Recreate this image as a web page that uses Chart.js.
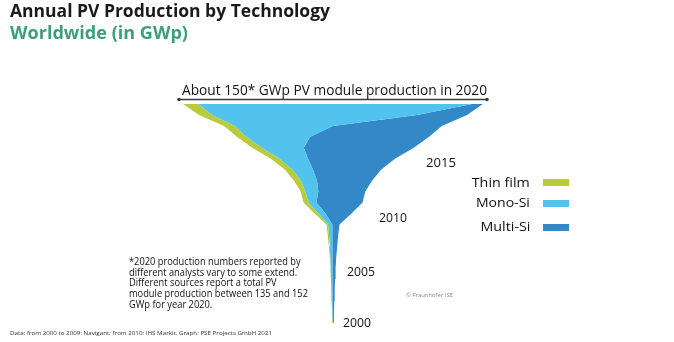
<!DOCTYPE html>
<html>
<head>
<meta charset="utf-8">
<title>Annual PV Production by Technology</title>
<script src="https://cdn.jsdelivr.net/npm/chart.js@4.4.0/dist/chart.umd.min.js"></script>
<style>
  body { margin: 0; background: #fff; font-family: "Open Sans", sans-serif; color: #111; }
  #wrap { position: relative; width: 674px; height: 342px; overflow: hidden; }
  #chart { position: absolute; left: 0; top: 0; }
  .t { position: absolute; white-space: nowrap; line-height: 1; transform-origin: 0 0; }
  .r { transform-origin: 100% 0; text-align: right; }
  .title { left: 10px; top: 1px; font-size: 18px; font-weight: 700; color: #1a1a1a; }
  .sub { left: 10px; top: 23px; font-size: 18px; font-weight: 700; color: #3f9d7f; }
  .head { left: 182px; top: 82px; font-size: 15px; }
  .year { font-size: 13px; }
  .leg { right: 144px; font-size: 13px; }
  .sw { position: absolute; left: 543px; width: 26px; height: 7px; }
  .note { left: 129px; top: 256px; font-size: 10px; line-height: 10.7px; }
  .src { left: 10px; top: 330px; font-size: 6px; color: #333; }
  .copy { left: 406px; top: 292px; font-size: 6px; color: #888; }
</style>
</head>
<body>
<div id="wrap">
  <canvas id="chart" width="674" height="342"></canvas>

  <div class="t title" data-w="320">Annual PV Production by Technology</div>
  <div class="t sub" data-w="178">Worldwide (in GWp)</div>
  <div class="t head" data-w="305">About 150* GWp PV module production in 2020</div>

  <div class="t year" style="left:426px; top:156px" data-w="30">2015</div>
  <div class="t year" style="left:379px; top:211px" data-w="28">2010</div>
  <div class="t year" style="left:347px; top:265px" data-w="28">2005</div>
  <div class="t year" style="left:343px; top:316px" data-w="28">2000</div>

  <div class="t leg r" style="top:176px" data-w="58">Thin film</div>
  <div class="t leg r" style="top:196px" data-w="54">Mono-Si</div>
  <div class="t leg r" style="top:220px" data-w="50">Multi-Si</div>
  <div class="sw" style="top:179px; background:#b7cb3c"></div>
  <div class="sw" style="top:200px; background:#52c3ee"></div>
  <div class="sw" style="top:224px; background:#3388c8"></div>

  <div class="t note" data-w="179">*2020 production numbers reported by<br>different analysts vary to some extend.<br>Different sources report a total PV<br>module production between 135 and 152<br>GWp for year 2020.</div>
  <div class="t src" data-w="262">Data: from 2000 to 2009: Navigant; from 2010: IHS Markit. Graph: PSE Projects GmbH 2021</div>
  <div class="t copy" data-w="47">© Fraunhofer ISE</div>
</div>

<script>
// Jahreswerte in GWp
const years = [2000, 2001, 2002, 2003, 2004, 2005, 2006, 2007, 2008, 2009, 2010,
               2011, 2012, 2013, 2014, 2015, 2016, 2017, 2018, 2019, 2020];
const thinFilm = [0, 0.01, 0.02, 0.03, 0.05, 0.1, 0.25, 0.5, 0.6, 0.8, 2.0,
                  2.5, 2.3, 3.5, 3.8, 4.2, 4.8, 4.6, 5.3, 6.5, 7.5];
const monoSi = [0.2, 0.4, 0.5, 0.6, 0.75, 0.9, 1.0, 1.3, 1.7, 2.1, 3.5,
                4.0, 6.5, 8.0, 10.2, 14.3, 21.0, 32.0, 49.0, 102.5, 137.0];
const multiSi = [0.1, 0.49, 0.78, 1.07, 1.3, 1.6, 2.0, 2.4, 2.9, 3.6, 13.0,
                 23.0, 23.5, 27.5, 34.0, 43.5, 55.0, 59.5, 54.5, 25.0, 5.5];

const colors = {
    thin: '#b7cb3c',
    mono: '#52c3ee',
    multi: '#3388c8'
};

// Trichter: Summe zentriert um 0, Technologien von links nach rechts gestapelt
const total = years.map((y, i) => thinFilm[i] + monoSi[i] + multiSi[i]);
const leftEdge = years.map((y, i) => ({ x: -total[i] / 2, y: y }));
const thinEdge = years.map((y, i) => ({ x: -total[i] / 2 + thinFilm[i], y: y }));
const monoEdge = years.map((y, i) => ({ x: -total[i] / 2 + thinFilm[i] + monoSi[i], y: y }));
const rightEdge = years.map((y, i) => ({ x: total[i] / 2, y: y }));

// Klammer über dem Trichter
const bracketPlugin = {
    id: 'bracket',
    afterDraw(chart) {
        const { ctx, chartArea } = chart;
        const y = chartArea.top - 4.5;
        const x1 = chartArea.left - 4;
        const x2 = chartArea.right + 4;
        ctx.save();
        ctx.strokeStyle = '#3a3a3a';
        ctx.fillStyle = '#3a3a3a';
        ctx.lineWidth = 1.5;
        ctx.beginPath();
        ctx.moveTo(x1, y);
        ctx.lineTo(x2, y);
        ctx.stroke();
        [x1, x2].forEach(x => {
            ctx.beginPath();
            ctx.arc(x, y, 1.8, 0, Math.PI * 2);
            ctx.fill();
        });
        ctx.restore();
    }
};

new Chart(document.getElementById('chart').getContext('2d'), {
    type: 'line',
    data: {
        datasets: [
            { label: 'edge', data: leftEdge, fill: false },
            { label: 'Thin film', data: thinEdge, fill: '-1', backgroundColor: colors.thin },
            { label: 'Mono-Si', data: monoEdge, fill: '-1', backgroundColor: colors.mono },
            { label: 'Multi-Si', data: rightEdge, fill: '-1', backgroundColor: colors.multi }
        ]
    },
    options: {
        indexAxis: 'y',
        responsive: false,
        animation: false,
        layout: { padding: { left: 183, right: 191, top: 104, bottom: 19 } },
        elements: {
            line: { borderWidth: 0, tension: 0 },
            point: { radius: 0, hoverRadius: 0 }
        },
        scales: {
            x: { type: 'linear', min: -75, max: 75, display: false },
            y: { type: 'linear', min: 2000, max: 2020, display: false }
        },
        plugins: {
            legend: { display: false },
            tooltip: { enabled: false }
        }
    },
    plugins: [bracketPlugin]
});

// Texte auf die Breiten im Original bringen
function fitTexts() {
    document.querySelectorAll('[data-w]').forEach(el => {
        el.style.transform = 'none';
        const w = el.getBoundingClientRect().width;
        el.style.transform = `scaleX(${el.dataset.w / w})`;
    });
}
fitTexts();
if (document.fonts) document.fonts.ready.then(fitTexts);
</script>
</body>
</html>
